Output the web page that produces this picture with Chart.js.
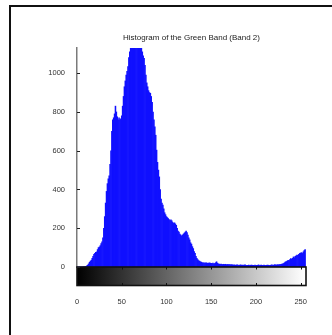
<!DOCTYPE html>
<html>
<head>
<meta charset="utf-8">
<script src="https://cdn.jsdelivr.net/npm/chart.js@4/dist/chart.umd.min.js"></script>
<style>
  html, body { margin: 0; padding: 0; background: #fff; overflow: hidden; }
  #wrap { position: relative; width: 332px; height: 335px; }
  #frame { position: absolute; left: 9px; top: 5px; width: 340px; height: 340px;
           border: 2px solid #111; box-sizing: border-box; pointer-events: none; }
  canvas { position: absolute; left: 0; top: 0; }
</style>
</head>
<body>
<div id="wrap">
  <canvas id="c" width="332" height="335"></canvas>
  <div id="frame"></div>
</div>
<script>
// Green band pixel counts per grey level 0..255
const greyLevels = Array.from({ length: 256 }, (_, i) => i);
const pixelCounts = [
  0,0,0,0,0,0,0,1,1,
  2,4,6,10,16,24,30,
  35,45,55,65,70,76,78,
  90,100,103,110,121,130,150,
  200,260,330,390,430,455,470,
  530,600,700,760,770,790,830,
  800,775,760,770,760,765,780,
  830,880,930,960,990,1010,1034,
  1080,1110,1150,1180,1200,1210,1230,
  1240,1235,1220,1210,1190,1170,1150,1135,
  1110,1090,1077,1040,990,950,930,
  910,900,896,880,850,800,760,
  723,680,603,540,500,465,400,
  350,330,320,300,280,270,260,
  255,250,245,240,243,238,230,
  225,228,222,215,200,185,180,
  170,165,160,165,170,175,180,
  185,178,165,150,140,125,118,
  105,95,80,70,55,45,38,
  33,30,27,25,22,21,22,
  20,22,21,19,20,21,20,
  19,18,20,17,18,22,27,
  20,16,15,14,15,14,13,
  14,13,14,12,13,12,13,12,11,12,11,
  10,11,9,10,11,10,9,10,
  11,9,10,9,10,11,9,8,
  9,10,8,9,10,9,8,9,
  10,8,9,9,11,8,9,10,
  9,8,10,9,8,9,10,9,
  8,9,10,11,9,10,12,11,
  10,12,11,13,12,14,15,16,
  18,22,26,28,30,35,33,
  38,43,40,45,52,48,55,
  58,62,60,66,70,72,74,
  70,78,85,90
];
const yTickValues = [0, 200, 400, 600, 800, 1000];
const xTickValues = [0, 50, 100, 150, 200, 250];
const titleText = 'Histogram of the Green Band (Band 2)';

const fontFamily = "'Liberation Sans Narrow', 'Liberation Sans', Arial, sans-serif";
const labelFont = { family: fontFamily, size: 7.5 };

// Title centred over the plot area, grey-level colour bar under the plot,
// and inward tick marks on both axes
const decorPlugin = {
  id: 'decor',
  afterDatasetsDraw(chart) {
    const { ctx, chartArea, scales } = chart;
    const x = scales.x, y = scales.y;
    const top = chartArea.bottom, h = 18.5;
    const left = chartArea.left, right = chartArea.right;
    ctx.save();

    ctx.fillStyle = '#222';
    ctx.font = '8px ' + fontFamily;
    ctx.textAlign = 'center';
    ctx.textBaseline = 'middle';
    ctx.fillText(titleText, (left + right) / 2, chartArea.top - 10);

    const g = ctx.createLinearGradient(x.getPixelForValue(0), 0, x.getPixelForValue(255), 0);
    g.addColorStop(0, '#000');
    g.addColorStop(1, '#fff');
    ctx.fillStyle = g;
    ctx.fillRect(left, top, right - left, h);
    ctx.strokeStyle = '#111';
    ctx.lineWidth = 1.6;
    ctx.strokeRect(left, top, right - left, h);
    ctx.lineWidth = 1;
    xTickValues.forEach(v => {
      const px = Math.round(x.getPixelForValue(v)) + 0.5;
      ctx.beginPath();
      ctx.moveTo(px, top); ctx.lineTo(px, top + 2.5);
      ctx.moveTo(px, top + h); ctx.lineTo(px, top + h - 2.5);
      ctx.stroke();
    });
    ctx.strokeStyle = '#222';
    yTickValues.forEach(v => {
      const py = Math.round(y.getPixelForValue(v)) + 0.5;
      ctx.beginPath();
      ctx.moveTo(left, py); ctx.lineTo(left + 3, py);
      ctx.stroke();
    });
    ctx.restore();
  }
};

new Chart(document.getElementById('c'), {
  type: 'bar',
  data: {
    datasets: [{
      data: greyLevels.map((g, i) => ({ x: g, y: pixelCounts[i] })),
      backgroundColor: '#1010ff',
      borderWidth: 0,
      barPercentage: 1,
      categoryPercentage: 1
    }]
  },
  plugins: [decorPlugin],
  options: {
    responsive: false,
    animation: false,
    layout: { padding: { top: 48, right: 26, left: 0, bottom: 0 } },
    plugins: {
      legend: { display: false },
      tooltip: { enabled: false },
      title: { display: false }
    },
    scales: {
      x: {
        type: 'linear',
        offset: false,
        min: 0,
        max: 256,
        grid: { display: false, offset: false },
        border: { display: false },
        afterBuildTicks: s => { s.ticks = xTickValues.map(v => ({ value: v })); },
        afterFit: s => { s.height = 68; },
        ticks: { color: '#333', font: labelFont, padding: 22, maxRotation: 0, autoSkip: false,
                 callback: v => String(v) }
      },
      y: {
        min: 0,
        max: 1130,
        grid: { display: false },
        border: { display: true, color: '#7a7a7a', width: 1.5 },
        afterBuildTicks: s => { s.ticks = yTickValues.map(v => ({ value: v })); },
        afterFit: s => { s.width = 77; },
        ticks: { color: '#333', font: labelFont, padding: 4, callback: v => String(v) }
      }
    }
  }
});
</script>
</body>
</html>
